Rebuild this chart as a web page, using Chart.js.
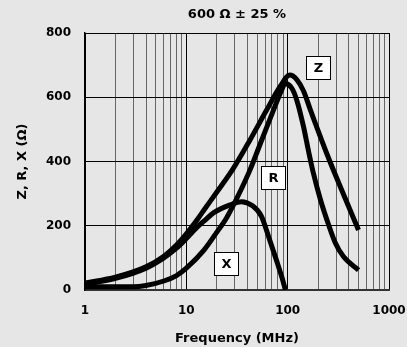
<!DOCTYPE html>
<html><head><meta charset="utf-8">
<script src="https://cdn.jsdelivr.net/npm/chart.js@4"></script>
<style>html,body{margin:0;padding:0;background:#e6e6e6;}#c{display:block;}</style>
</head><body>
<canvas id="c" width="407" height="347"></canvas>
<script>
const chartTitle = '600 \u03A9 \u00B1 25 %';
const xAxisTitle = 'Frequency (MHz)';
const yAxisTitle = 'Z, R, X (\u03A9)';
const xDecades = [1, 10, 100, 1000];
const yTickValues = [0, 200, 400, 600, 800];

const zFreq = [1, 2, 4, 6, 8, 10, 13, 15, 20, 29, 42.5, 62, 84, 105, 123, 143, 170, 243, 330, 500];
const zImp  = [22, 40, 72, 105, 140, 175, 222, 250, 305, 378, 467, 560, 633, 669, 655, 620, 555, 425, 322, 187];

const rFreq = [1, 3, 4, 6, 8, 10, 15, 20, 25, 30, 35, 42.5, 55.5, 72.4, 87.4, 94.5, 110, 123, 143, 160, 179, 209, 243, 294, 355, 500];
const rRes  = [10, 10, 14, 28, 45, 68, 125, 180, 225, 272, 315, 374, 467, 560, 623, 643, 628, 591, 510, 435, 365, 285, 220, 148, 104, 62];

const xFreq  = [1, 2, 4, 6, 8, 10, 13, 15, 18.5, 27, 35, 45, 55, 65, 78, 88, 95];
const xReact = [18, 36, 68, 100, 130, 160, 198, 215, 240, 265, 275, 262, 230, 165, 90, 38, 0];

const curveLabels = ['Z', 'R', 'X'];
const labelFreq   = [200, 72, 24.7];
const labelValue  = [694, 350, 81];

const toPts = (f, v) => f.map((x, i) => ({x: x, y: v[i]}));

const FONT = 'DejaVu Sans';
Chart.defaults.font.family = FONT;
Chart.defaults.color = '#000';

const allXTicks = [];
xDecades.forEach((d, i) => {
  if (i < xDecades.length - 1) { for (let k = 1; k <= 9; k++) allXTicks.push(d * k); }
  else allXTicks.push(d);
});

const overlay = {
  id: 'overlay',
  afterDatasetsDraw(chart) {
    const {ctx, chartArea, scales} = chart;
    ctx.save();
    ctx.font = 'bold 13px "' + FONT + '"';
    ctx.fillStyle = '#000';
    ctx.textAlign = 'center';
    ctx.textBaseline = 'middle';
    ctx.fillText(chartTitle, (chartArea.left + chartArea.right) / 2, 15);
    curveLabels.forEach((t, i) => {
      const px = scales.x.getPixelForValue(labelFreq[i]);
      const py = scales.y.getPixelForValue(labelValue[i]);
      const w = 24, h = 23;
      const lx = Math.round(px - w / 2) + 0.5, ly = Math.round(py - h / 2) + 0.5;
      ctx.fillStyle = '#fff';
      ctx.fillRect(lx, ly, w, h);
      ctx.strokeStyle = '#000';
      ctx.lineWidth = 1;
      ctx.strokeRect(lx, ly, w, h);
      ctx.fillStyle = '#000';
      ctx.fillText(t, lx + w / 2, ly + h / 2 + 1);
    });
    ctx.restore();
  }
};

const ds = (data) => ({
  data: data, borderColor: '#000', borderWidth: 5, pointRadius: 0,
  fill: false, cubicInterpolationMode: 'monotone', borderCapStyle: 'butt', borderJoinStyle: 'round'
});

new Chart(document.getElementById('c'), {
  type: 'line',
  data: {
    datasets: [ds(toPts(zFreq, zImp)), ds(toPts(rFreq, rRes)), ds(toPts(xFreq, xReact))]
  },
  options: {
    responsive: false,
    animation: false,
    events: [],
    layout: {padding: {left: 0, top: 33, right: 18, bottom: 0}},
    plugins: {legend: {display: false}, tooltip: {enabled: false}, title: {display: false}},
    scales: {
      x: {
        type: 'logarithmic', min: 1, max: 1000,
        afterBuildTicks: (s) => { s.ticks = allXTicks.map(v => ({value: v})); },
        afterFit: (s) => { s.height = 57; s.paddingLeft = 0; s.paddingRight = 0; },
        ticks: {
          autoSkip: false, maxRotation: 0, padding: 14,
          font: {size: 12, weight: 'bold'},
          callback: (v) => xDecades.includes(v) ? String(v) : ''
        },
        grid: {
          drawTicks: false, lineWidth: 1,
          color: (c) => (c.tick && xDecades.includes(c.tick.value)) ? '#000' : '#666'
        },
        border: {display: true, color: '#333', width: 2},
        title: {display: true, text: xAxisTitle, font: {size: 13, weight: 'bold'}, padding: {top: 0, bottom: 1}}
      },
      y: {
        type: 'linear', min: 0, max: 800,
        afterBuildTicks: (s) => { s.ticks = yTickValues.map(v => ({value: v})); },
        afterFit: (s) => { s.width = 85; s.paddingTop = 0; s.paddingBottom = 0; },
        ticks: {padding: 14, font: {size: 12, weight: 'bold'}},
        grid: {drawTicks: false, color: '#000', lineWidth: 1},
        border: {display: true, color: '#000', width: 1.5},
        title: {display: true, text: yAxisTitle, font: {size: 13, weight: 'bold'}, padding: {top: 15, bottom: 0}}
      }
    }
  },
  plugins: [overlay]
});
</script>
</body></html>
